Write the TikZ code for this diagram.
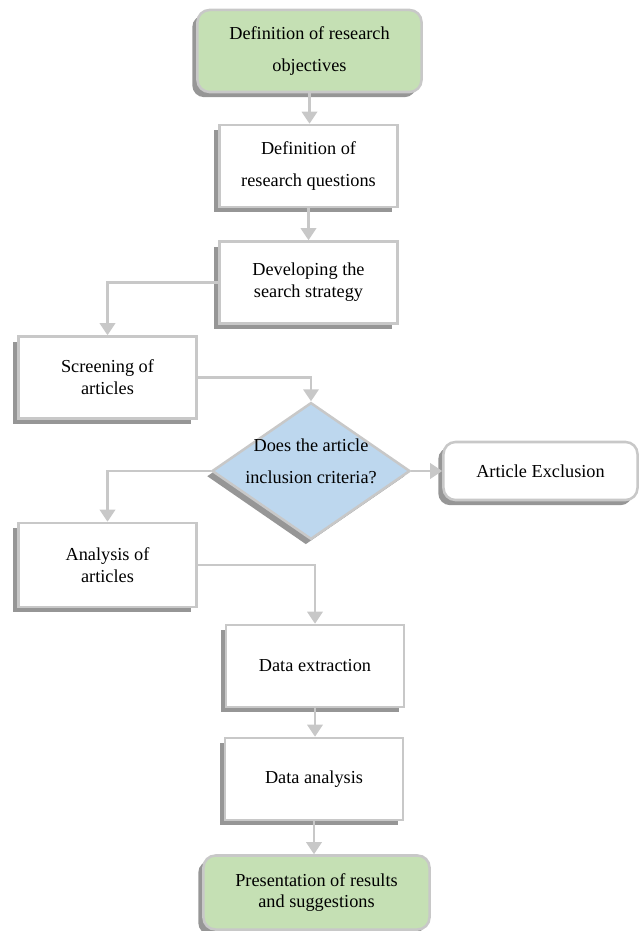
\documentclass[tikz,border=0pt]{standalone}
\usepackage{fontspec}
\setmainfont{Liberation Serif}
\usetikzlibrary{shapes.geometric,shadows,arrows.meta}
\definecolor{boxline}{RGB}{200,200,200}
\definecolor{boxshade}{RGB}{150,150,150}
\definecolor{startgreen}{RGB}{197,224,180}
\definecolor{askblue}{RGB}{189,215,238}

\begin{document}
\begin{tikzpicture}[x=0.025cm,y=-0.025cm,
  stepbox/.style={draw=boxline,line width=1.8pt,fill=white,align=center,inner sep=2pt,
    font=\fontsize{13}{15.5}\selectfont,minimum width=4.45cm,minimum height=2.05cm,
    drop shadow={shadow xshift=-0.13cm,shadow yshift=-0.13cm,fill=boxshade,opacity=1}},
  endbox/.style={stepbox,rounded corners=0.3cm,fill=startgreen,minimum width=5.6cm},
  askbox/.style={stepbox,diamond,fill=askblue,minimum width=4.95cm,minimum height=3.42cm},
  arr/.style={draw=boxline,line width=2pt,-{Triangle[length=0.3cm,width=0.38cm]}}]

\useasboundingbox (0,0) rectangle (639,931);

\node[endbox] (obj) at (309.5,51) {Definition of research\\[7pt]objectives};
\node[stepbox] (quest) at (308.5,166) {Definition of\\[7pt]research questions};
\node[stepbox] (strat) at (308.5,282.5) {Developing the\\search strategy};
\node[stepbox] (screen) at (107.5,377.5) {Screening of\\articles};
\node[askbox,label={[align=center,font=\fontsize{13}{15.5}\selectfont,yshift=0.25cm]center:{Does the article\\[7pt]inclusion criteria?}}] (crit) at (311,471) {};
\node[stepbox,rounded corners=0.3cm,minimum width=4.85cm,minimum height=1.45cm] (excl) at (540.5,471) {Article Exclusion};
\node[stepbox,minimum height=2.1cm] (anal) at (107.5,565) {Analysis of\\articles};
\node[stepbox] (extr) at (315,666) {Data extraction};
\node[stepbox] (dana) at (314,779) {Data analysis};
\node[endbox,minimum width=5.65cm,minimum height=1.85cm] (pres) at (316.5,892.5) {Presentation of results\\and suggestions};

\draw[arr] (obj.south) -- (obj.south |- quest.north);
\draw[arr] (quest.south) -- (strat.north);
\draw[arr] (strat.west) -| (screen.north);
\draw[arr] (screen.east) -| (crit.north);
\draw[arr] (crit.east) -- (excl.west);
\draw[arr] (crit.west) -| (anal.north);
\draw[arr] (anal.east) -| (extr.north);
\draw[arr] (extr.south) -- (extr.south |- dana.north);
\draw[arr] (dana.south) -- (dana.south |- pres.north);

\end{tikzpicture}
\end{document}
